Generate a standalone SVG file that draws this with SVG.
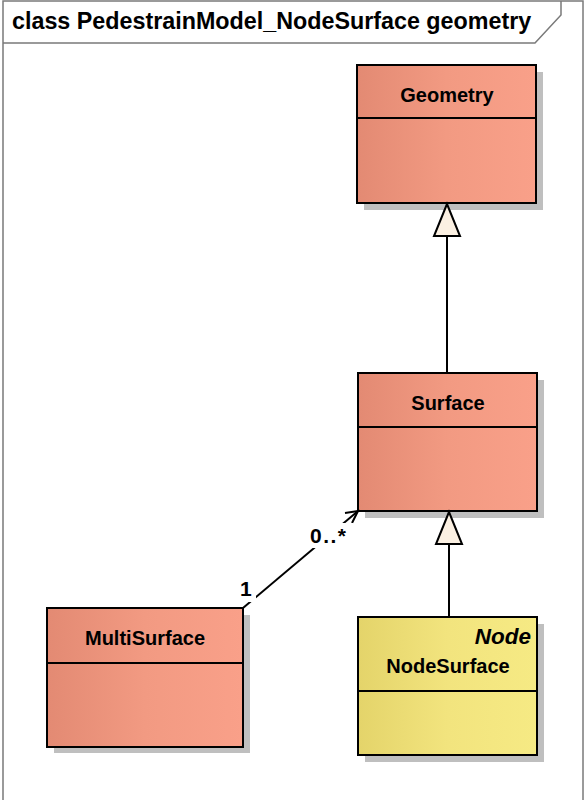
<svg xmlns="http://www.w3.org/2000/svg" width="584" height="800" viewBox="0 0 584 800">
<defs>
<linearGradient id="salmon" x1="0" y1="0" x2="1" y2="0">
<stop offset="0" stop-color="#E38A73"/>
<stop offset="0.5" stop-color="#F29A82"/>
<stop offset="1" stop-color="#F9A089"/>
</linearGradient>
<linearGradient id="yellow" x1="0" y1="0" x2="1" y2="0">
<stop offset="0" stop-color="#E4D46A"/>
<stop offset="0.5" stop-color="#F2E47E"/>
<stop offset="1" stop-color="#F6EA84"/>
</linearGradient>
</defs>
<style>
.frame{fill:none;stroke:#7a7a7a;stroke-width:1.5}
.shadow{fill:#BFBFBF}
.box{stroke:#000;stroke-width:2}
.div{stroke:#000;stroke-width:2}
.name{font-family:"Liberation Sans",Arial,sans-serif;font-weight:bold;font-size:20px;fill:#000;text-anchor:middle}
.stereo{font-family:"Liberation Sans",Arial,sans-serif;font-weight:bold;font-style:italic;font-size:22.5px;fill:#000;text-anchor:end}
.title{font-family:"Liberation Sans",Arial,sans-serif;font-weight:bold;font-size:23.3px;fill:#000}
.lbl{font-family:"Liberation Sans",Arial,sans-serif;font-weight:bold;font-size:21px;fill:#000}
.conn{stroke:#000;stroke-width:2;fill:none}
.gen{fill:#FBF0E2;stroke:#000;stroke-width:2}
</style>
<rect x="0" y="0" width="584" height="800" fill="#fff"/>
<g id="frame">
<rect class="frame" x="3" y="1" width="580" height="802"/>
<path class="frame" d="M3,43 H535 L561,15 V1"/>
<text class="title" x="12" y="29">class PedestrainModel_NodeSurface geometry</text>
</g>
<g id="Geometry">
<rect class="shadow" x="364" y="72" width="179" height="138"/>
<rect class="box" x="357" y="65" width="179" height="138" fill="url(#salmon)"/>
<line class="div" x1="357" y1="118" x2="536" y2="118"/>
<text class="name" x="447" y="102">Geometry</text>
</g>
<g id="Surface">
<rect class="shadow" x="365" y="380" width="179" height="138"/>
<rect class="box" x="358" y="373" width="179" height="138" fill="url(#salmon)"/>
<line class="div" x1="358" y1="427" x2="537" y2="427"/>
<text class="name" x="448" y="410">Surface</text>
</g>
<g id="MultiSurface">
<rect class="shadow" x="54" y="615" width="196" height="138"/>
<rect class="box" x="47" y="608" width="196" height="139" fill="url(#salmon)"/>
<line class="div" x1="47" y1="663" x2="243" y2="663"/>
<text class="name" x="145" y="645">MultiSurface</text>
</g>
<g id="NodeSurface">
<rect class="shadow" x="365" y="624" width="179" height="138"/>
<rect class="box" x="358" y="617" width="179" height="138" fill="url(#yellow)"/>
<line class="div" x1="358" y1="691" x2="537" y2="691"/>
<text class="stereo" x="531" y="644">Node</text>
<text class="name" x="448" y="673">NodeSurface</text>
</g>
<g id="connectors">
<line class="conn" x1="447" y1="236" x2="447" y2="373"/>
<polygon class="gen" points="447,204 434,236 460,236"/>
<line class="conn" x1="449" y1="544" x2="449" y2="617"/>
<polygon class="gen" points="449,512 436,544 462,544"/>
<line class="conn" x1="243" y1="608" x2="358" y2="511"/>
<polyline class="conn" points="345,513 358,511 352,523"/>
<rect x="238" y="579" width="18" height="23" fill="#fff"/>
<text class="lbl" x="240" y="596">1</text>
<rect x="308" y="523" width="45" height="25" fill="#fff"/>
<text class="lbl" x="310" y="543" letter-spacing="1.5">0..*</text>
</g>
</svg>
